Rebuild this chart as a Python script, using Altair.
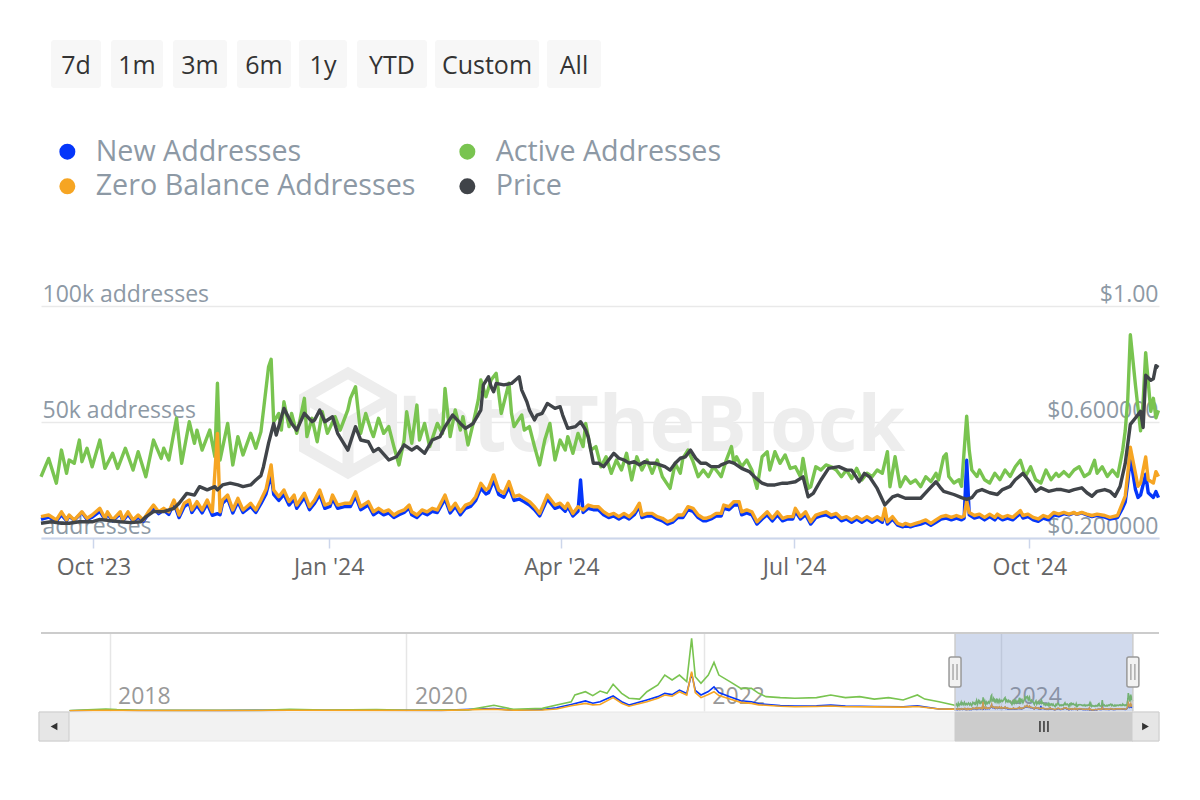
import altair as alt
import pandas as pd

# ---------------------------------------------------------------- data
START = pd.Timestamp("2023-09-10 12:00")
END = pd.Timestamp("2024-11-20 17:00")

# (day offset from START, thousands of addresses)
ACTIVE = [(0,26.4),(3,34.3),(6,23.6),(8,37.9),(10,27.9),(11,33.6),(13,32.2),(15,42.2),(16,32.9),(18,38.7),
          (20,30.7),(23,42.2),(25,30.0),(28,36.5),(30,30.0),(33,38.7),(36,29.3),(38,37.2),(41,26.4),(44,42.2),
          (47,34.3),(48,38.7),(50,33.6),(53,51.6),(55,32.2),(58,50.1),(60,40.8),(61,46.5),(63,37.9),(66,46.5),
          (68,35.0),(69,66.7),(70,33.6),(73,49.4),(75,31.5),(77,43.7),(79,35.8),(82,45.1),(84,38.7),(86,45.8),
          (87,55.0),(89,73.8),(90,77.0),(91,50.0),(93,53.7),(94,46.5),(95,58.7),(97,48.0),(98,53.7),(100,45.1),
          (101,49.4),(103,60.2),(104,43.7),(106,51.6),(108,41.5),(110,54.4),(112,45.1),(115,52.3),(117,46.5),(120,55.2),
          (121,60.2),(123,65.2),(125,45.1),(127,53.7),(129,46.5),(130,43.7),(132,51.6),(134,45.1),(136,48.0),(138,39.4),
          (140,31.5),(142,42.2),(143,54.4),(145,40.8),(147,57.3),(148,42.2),(150,49.4),(152,39.4),(155,49.4),(157,45.1),
          (158,64.5),(160,43.7),(162,55.2),(164,46.5),(165,52.3),(167,40.1),(169,49.4),(171,59.5),(172,68.1),(174,60.9),
          (176,68.1),(178,71.0),(180,53.7),(183,66.7),(184,53.7),(185,48.0),(188,53.0),(189,46.5),(191,48.0),(193,39.4),
          (195,31.5),(197,42.2),(199,49.4),(201,33.6),(203,42.2),(205,37.9),(206,43.7),(208,36.5),(210,45.1),(212,39.4),
          (213,49.4),(215,37.9),(217,39.4),(219,30.7),(221,35.0),(223,27.9),(225,33.6),(227,29.3),(229,36.5),(231,25.0),
          (233,35.0),(235,29.3),(237,33.6),(239,27.9),(241,33.6),(243,26.4),(246,21.4),(248,32.2),(250,27.9),(251,34.3),
          (253,37.9),(255,32.9),(257,26.4),(259,29.3),(261,26.4),(263,30.7),(265,27.9),(266,26.4),(268,33.6),(270,39.4),
          (271,32.2),(272,35.0),(274,30.7),(276,33.6),(278,29.3),(280,21.4),(282,35.0),(284,37.2),(285,29.3),(287,37.2),
          (289,32.2),(291,35.8),(293,30.0),(295,30.7),(297,26.4),(298,34.3),(300,21.4),(301,22.1),(303,30.7),(305,29.3),
          (307,31.5),(309,30.7),(311,29.3),(313,26.4),(315,29.3),(317,25.7),(319,30.0),(321,25.0),(323,27.9),(325,26.4),
          (327,29.3),(329,27.9),(331,37.2),(332,22.1),(334,35.0),(336,22.1),(338,26.4),(340,23.6),(342,25.0),(344,22.1),
          (346,26.4),(348,24.3),(350,27.9),(351,25.0),(353,35.0),(354,36.3),(355,26.5),(357,23.7),(359,25.1),(360,22.3),
          (362,52.5),(363,37.8),(364,29.3),(366,26.5),(367,29.3),(369,25.1),(371,23.7),(373,27.9),(375,25.1),(377,29.3),
          (379,26.5),(381,30.7),(383,33.5),(385,26.5),(387,30.7),(389,25.1),(391,23.7),(393,29.3),(395,25.1),(397,27.9),
          (398,26.5),(400,28.6),(402,26.5),(404,29.3),(406,30.7),(408,26.5),(410,27.9),(412,33.5),(413,27.9),(415,30.7),
          (417,26.5),(419,29.3),(421,26.5),(423,37.8),(424,46.2),(425,60.0),(426,87.6),(428,65.9),(430,46.2),(431,58.8),
          (432,79.9),(434,54.6),(435,60.2),(436,51.8),(437,55.0)]

ZERO = [(0,9.2),(3,9.9),(6,7.8),(8,11.3),(10,7.8),(11,9.9),(13,7.8),(16,11.3),(18,8.5),(20,9.9),
        (23,12.8),(25,8.5),(26,11.3),(28,7.8),(31,11.3),(32,7.8),(34,11.3),(36,7.8),(38,9.9),(40,7.8),
        (42,11.3),(44,14.2),(46,11.3),(48,12.8),(50,11.3),(52,16.4),(54,9.9),(56,15.0),(58,16.4),(59,12.1),
        (61,15.7),(63,12.1),(65,16.4),(67,11.3),(69,45.1),(70,11.3),(71,16.4),(73,18.5),(75,12.1),(77,17.1),
        (79,12.1),(82,15.0),(84,12.1),(86,16.4),(88,21.0),(90,31.5),(91,20.7),(93,17.8),(95,20.7),(97,15.7),
        (99,18.5),(100,14.2),(103,19.3),(105,13.5),(107,16.4),(109,20.7),(111,14.2),(113,15.0),(114,18.5),(116,14.2),
        (119,15.0),(121,15.0),(123,19.9),(125,13.5),(128,15.7),(130,11.3),(132,12.8),(134,11.3),(136,12.1),(138,9.9),
        (140,11.3),(142,12.1),(144,14.2),(145,11.3),(147,9.9),(149,12.1),(151,11.3),(153,12.8),(155,12.1),(158,18.5),
        (160,12.1),(162,15.0),(164,11.3),(166,14.2),(168,15.0),(170,17.8),(172,23.6),(174,20.7),(175,21.5),(177,27.2),
        (179,20.7),(181,19.3),(183,24.3),(185,17.8),(187,18.5),(189,17.1),(191,15.7),(193,13.5),(195,10.6),(198,18.5),
        (201,14.2),(203,15.0),(205,12.8),(206,15.0),(208,10.6),(210,13.5),(212,12.1),(214,14.2),(216,13.5),(218,13.5),
        (220,11.3),(222,9.9),(224,10.6),(226,9.2),(228,10.6),(230,9.2),(232,11.3),(234,15.0),(235,9.9),(237,10.6),
        (239,10.6),(241,9.2),(243,8.5),(245,7.0),(247,7.8),(249,9.9),(251,9.9),(253,13.5),(255,12.8),(257,9.9),
        (259,8.5),(260,8.5),(262,9.2),(264,10.6),(266,10.6),(267,14.2),(269,13.5),(271,15.7),(273,15.7),(274,11.3),
        (276,12.1),(278,11.3),(280,7.0),(282,9.2),(284,11.3),(286,8.5),(288,11.3),(290,8.5),(292,9.2),(294,9.2),
        (295,12.8),(297,9.2),(299,11.3),(301,7.0),(303,9.9),(305,10.6),(307,11.3),(309,9.9),(311,10.6),(313,8.5),
        (315,9.2),(317,7.8),(319,9.2),(321,7.8),(323,9.2),(325,7.8),(327,9.2),(329,7.8),(330,12.8),(331,7.0),
        (333,9.2),(335,6.3),(337,5.6),(338,6.3),(340,5.6),(342,6.3),(344,7.0),(346,7.8),(348,6.3),(350,7.8),
        (352,9.2),(354,9.7),(356,8.9),(358,9.7),(360,8.9),(361,9.5),(362,16.0),(363,11.0),(365,9.7),(367,10.3),
        (369,8.9),(371,10.3),(373,8.9),(374,10.3),(376,8.9),(378,9.7),(380,8.9),(383,11.8),(384,9.7),(386,10.3),
        (388,8.9),(390,8.2),(392,9.7),(394,8.9),(396,11.0),(398,10.3),(400,11.0),(402,10.3),(404,11.0),(405,10.3),
        (407,11.0),(409,10.3),(411,9.7),(413,10.3),(416,9.7),(418,8.9),(421,9.7),(423,15.3),(424,18.1),(425,27.9),
        (426,39.1),(428,27.9),(429,22.3),(430,23.7),(432,34.9),(433,25.1),(435,23.7),(436,28.6),(437,26.5)]

NEW = [(0,8.0),(3,9.0),(6,7.2),(8,10.0),(10,7.5),(11,9.5),(13,7.6),(16,11.0),(18,8.0),(20,9.0),
       (23,11.5),(25,8.0),(26,10.5),(28,7.4),(31,10.5),(32,7.4),(34,10.2),(36,7.2),(38,9.0),(40,7.2),
       (42,10.2),(44,13.0),(46,10.5),(48,12.0),(50,10.2),(52,15.0),(54,8.8),(56,13.5),(58,15.0),(59,11.0),
       (61,14.2),(63,10.8),(65,14.8),(67,9.8),(69,10.5),(70,10.0),(71,15.0),(73,17.0),(75,10.8),(77,15.6),
       (79,11.0),(82,13.6),(84,11.0),(86,14.8),(88,19.0),(90,27.5),(91,18.8),(93,16.2),(95,18.8),(97,14.2),
       (99,16.8),(100,12.8),(103,17.6),(105,12.2),(107,15.0),(109,18.8),(111,12.8),(113,13.6),(114,17.0),(116,12.8),
       (119,13.6),(121,13.6),(123,18.0),(125,12.2),(128,14.2),(130,10.0),(132,11.5),(134,10.0),(136,10.8),(138,8.8),
       (140,10.0),(142,11.0),(144,13.0),(145,10.0),(147,8.8),(149,11.0),(151,10.0),(153,11.5),(155,11.0),(158,16.8),
       (160,10.8),(162,13.6),(164,10.0),(166,12.8),(168,13.6),(170,16.2),(172,21.5),(174,19.0),(175,19.5),(177,24.8),
       (179,18.8),(181,17.6),(183,22.0),(185,16.2),(187,16.8),(189,15.6),(191,14.2),(193,12.2),(195,9.5),(198,16.8),
       (201,12.8),(203,13.6),(205,11.5),(206,13.6),(208,9.5),(210,11.5),(211,25.0),(212,11.0),(214,12.8),(216,12.2),
       (218,12.2),(220,10.0),(222,8.8),(224,9.5),(226,8.2),(228,9.5),(230,8.2),(232,10.0),(234,13.6),(235,8.8),
       (237,9.5),(239,9.5),(241,8.2),(243,7.4),(245,6.0),(247,6.8),(249,8.8),(251,8.8),(253,12.2),(255,11.5),
       (257,8.8),(259,7.4),(260,7.4),(262,8.2),(264,9.5),(266,9.5),(267,12.8),(269,12.2),(271,14.2),(273,14.2),
       (274,10.0),(276,10.8),(278,10.0),(280,6.0),(282,8.2),(284,10.0),(286,7.4),(288,10.0),(290,7.4),(292,8.2),
       (294,8.2),(295,11.5),(297,8.2),(299,10.0),(301,6.0),(303,8.8),(305,9.5),(307,10.0),(309,8.8),(311,9.5),
       (313,7.4),(315,8.2),(317,6.8),(319,8.2),(321,6.8),(323,8.2),(325,6.8),(327,8.2),(329,6.8),(330,11.0),
       (331,6.0),(333,8.2),(335,5.5),(337,4.8),(338,5.5),(340,4.8),(342,5.5),(344,6.0),(346,6.8),(348,5.5),
       (350,6.8),(352,8.2),(354,8.6),(356,7.8),(358,8.6),(360,7.8),(361,8.5),(362,33.5),(363,10.0),(365,8.6),
       (367,9.2),(369,7.8),(371,9.2),(373,7.8),(374,9.2),(376,7.8),(378,8.6),(380,7.8),(383,10.6),(384,8.6),
       (386,9.2),(388,7.8),(390,7.2),(392,8.6),(394,7.8),(396,10.0),(398,9.5),(400,10.5),(402,10.0),(404,10.8),
       (405,10.2),(407,10.8),(409,10.0),(411,9.2),(413,9.8),(416,9.0),(418,8.2),(421,8.8),(423,13.0),(424,15.5),
       (425,24.0),(426,34.9),(428,20.9),(429,17.5),(430,18.5),(432,27.5),(433,19.5),(435,17.5),(436,20.0),(437,17.4)]

# (day offset from START, USD)
PRICE = [(0,0.251),(4,0.256),(8,0.251),(11,0.251),(15,0.256),(20,0.256),(23,0.264),(27,0.260),(31,0.256),(35,0.253),
         (39,0.256),(41,0.273),(44,0.291),(48,0.291),(52,0.302),(54,0.320),(57,0.354),(60,0.348),(62,0.377),(65,0.366),
         (68,0.377),(69,0.366),(71,0.383),(74,0.389),(77,0.383),(79,0.377),(82,0.383),(84,0.400),(86,0.415),(87,0.446),
         (89,0.527),(91,0.595),(92,0.555),(95,0.647),(98,0.595),(100,0.572),(103,0.630),(106,0.601),(107,0.607),(109,0.641),
         (111,0.601),(114,0.618),(116,0.561),(120,0.503),(123,0.584),(125,0.538),(128,0.532),(130,0.498),(132,0.509),(136,0.469),
         (139,0.480),(142,0.521),(145,0.503),(147,0.515),(150,0.492),(153,0.538),(156,0.549),(158,0.584),(161,0.624),(164,0.595),
         (166,0.578),(169,0.595),(172,0.641),(173,0.728),(175,0.756),(176,0.722),(177,0.704),(178,0.733),(181,0.728),(184,0.733),
         (187,0.756),(188,0.710),(190,0.670),(191,0.641),(193,0.607),(194,0.624),(196,0.630),(198,0.664),(201,0.647),(203,0.653),
         (204,0.624),(206,0.578),(209,0.584),(211,0.601),(213,0.572),(214,0.549),(216,0.458),(218,0.458),(220,0.446),(222,0.469),
         (224,0.492),(226,0.475),(228,0.469),(230,0.458),(232,0.463),(234,0.452),(236,0.463),(238,0.458),(240,0.458),(242,0.452),
         (244,0.446),(246,0.434),(248,0.458),(250,0.475),(252,0.480),(254,0.503),(256,0.475),(258,0.458),(260,0.458),(262,0.446),
         (265,0.446),(266,0.452),(269,0.463),(271,0.458),(274,0.440),(277,0.429),(279,0.411),(282,0.389),(284,0.383),(287,0.383),
         (290,0.389),(292,0.389),(295,0.394),(298,0.411),(300,0.342),(302,0.354),(305,0.400),(308,0.440),(312,0.446),(315,0.434),
         (317,0.434),(320,0.394),(322,0.423),(324,0.411),(327,0.371),(330,0.314),(333,0.342),(335,0.348),(338,0.337),(341,0.337),
         (344,0.337),(347,0.366),(350,0.394),(352,0.371),(353,0.361),(357,0.350),(360,0.339),(362,0.333),(364,0.339),(366,0.361),
         (368,0.367),(371,0.356),(374,0.350),(376,0.367),(379,0.378),(381,0.401),(384,0.423),(386,0.401),(389,0.361),(391,0.373),
         (394,0.361),(397,0.367),(399,0.367),(402,0.361),(404,0.367),(407,0.373),(409,0.356),(411,0.344),(413,0.361),(416,0.367),
         (418,0.361),(420,0.344),(422,0.378),(424,0.457),(425,0.524),(426,0.592),(428,0.614),(430,0.637),(431,0.581),(432,0.761),
         (434,0.744),(435,0.749),(436,0.794),(437,0.788)]

# navigator history before the selected range (date, thousands)
NAV_ACTIVE = [("2017-09-25",2.5),("2017-12-23",9.7),("2018-01-19",6.5),("2018-03-15",4.0),("2018-06-27",3.2),
              ("2018-10-01",3.5),("2019-01-10",3.0),("2019-03-20",8.1),("2019-06-15",4.5),("2019-10-19",6.5),
              ("2020-01-10",4.0),("2020-03-27",4.9),("2020-06-01",5.5),("2020-08-03",27.6),("2020-09-20",8.1),
              ("2020-11-30",13.0),("2021-01-04",29.2),("2021-02-09",45.0),("2021-02-18",78.0),("2021-03-16",94.0),
              ("2021-04-03",75.0),("2021-04-21",97.0),("2021-05-08",86.0),("2021-05-23",130.0),("2021-06-13",86.0),
              ("2021-07-01",62.0),("2021-07-27",58.0),("2021-08-14",94.0),("2021-09-10",127.0),("2021-09-27",175.0),
              ("2021-10-15",151.0),("2021-11-02",175.0),("2021-11-20",143.0),("2021-12-02",354.0),("2021-12-11",167.0),
              ("2021-12-25",135.0),("2022-01-12",175.0),("2022-01-26",237.0),("2022-02-07",175.0),("2022-03-06",143.0),
              ("2022-04-02",110.0),("2022-04-28",110.0),("2022-05-16",86.0),("2022-06-03",70.0),("2022-07-08",65.0),
              ("2022-08-13",62.0),("2022-10-05",65.0),("2022-11-09",78.0),("2022-12-15",65.0),("2023-01-19",70.0),
              ("2023-02-24",58.0),("2023-03-31",65.0),("2023-05-06",54.0),("2023-06-10",78.0),("2023-06-28",58.0),
              ("2023-08-02",45.0),("2023-09-07",29.0)]
NAV_NEW = [("2017-09-25",1.5),("2017-12-23",5.0),("2018-03-15",2.5),("2018-10-01",2.0),("2019-03-20",4.0),
           ("2019-10-19",3.5),("2020-03-27",3.0),("2020-08-03",12.0),("2020-09-20",4.0),("2020-11-30",7.0),
           ("2021-01-04",16.0),("2021-02-09",32.0),("2021-03-16",49.0),("2021-04-03",38.0),("2021-04-21",45.0),
           ("2021-05-23",73.0),("2021-06-13",45.0),("2021-07-01",29.0),("2021-08-14",54.0),("2021-09-10",70.0),
           ("2021-09-27",86.0),("2021-10-15",80.0),("2021-11-02",102.0),("2021-11-20",85.0),("2021-12-02",183.0),
           ("2021-12-11",100.0),("2021-12-25",78.0),("2022-01-12",95.0),("2022-01-26",118.0),("2022-02-07",90.0),
           ("2022-03-06",70.0),("2022-04-02",50.0),("2022-04-28",45.0),("2022-05-16",35.0),("2022-07-08",26.0),
           ("2022-08-13",24.0),("2022-10-05",25.0),("2022-11-09",29.0),("2022-12-15",24.0),("2023-02-24",22.0),
           ("2023-05-06",21.0),("2023-06-10",25.0),("2023-08-02",10.0),("2023-09-07",9.0)]
NAV_ZERO = [("2017-09-25",1.0),("2017-12-23",4.0),("2018-03-15",2.0),("2018-10-01",1.8),("2019-03-20",3.5),
            ("2019-10-19",3.0),("2020-03-27",2.5),("2020-08-03",9.0),("2020-09-20",3.5),("2020-11-30",5.0),
            ("2021-01-04",10.0),("2021-02-09",26.0),("2021-03-16",37.0),("2021-04-03",30.0),("2021-04-21",32.0),
            ("2021-05-23",65.0),("2021-06-13",38.0),("2021-07-01",23.0),("2021-08-14",45.0),("2021-09-10",62.0),
            ("2021-09-27",78.0),("2021-10-15",72.0),("2021-11-02",94.0),("2021-11-20",78.0),("2021-12-02",192.0),
            ("2021-12-11",90.0),("2021-12-25",65.0),("2022-01-12",80.0),("2022-01-26",94.0),("2022-02-07",75.0),
            ("2022-03-06",58.0),("2022-04-02",42.0),("2022-04-28",37.0),("2022-05-16",30.0),("2022-07-08",23.0),
            ("2022-08-13",21.0),("2022-10-05",22.0),("2022-11-09",24.0),("2022-12-15",21.0),("2023-02-24",20.0),
            ("2023-05-06",19.0),("2023-06-10",22.0),("2023-08-02",10.0),("2023-09-07",9.0)]

NEW_NAME, ACTIVE_NAME, ZERO_NAME, PRICE_NAME = "New Addresses", "Active Addresses", "Zero Balance Addresses", "Price"
# legend fills column by column: New / Zero in the first column, Active / Price in the second
LEGEND_ORDER = [NEW_NAME, ZERO_NAME, ACTIVE_NAME, PRICE_NAME]
BUTTONS = ["7d", "1m", "3m", "6m", "1y", "YTD", "Custom", "All"]

# ---------------------------------------------------------------- style / layout
FONT = "Open Sans"
C_NEW, C_ACTIVE, C_ZERO, C_PRICE = "#0536fa", "#79c450", "#f6a523", "#404449"
W, H = 1118, 232
NAV_H = 78
BUTTON_LEFT = [10, 70, 132, 196, 258, 316, 394, 506]
BUTTON_WIDTH = [50, 52, 54, 54, 48, 70, 104, 54]
AXIS_GRAY = "#8d99a5"


def main_frame(pairs, name, mult):
    return pd.DataFrame({
        "date": [START + pd.Timedelta(days=d) for d, _ in pairs],
        "value": [v * mult for _, v in pairs],
        "series": name,
    })


def nav_frame(pairs, main_pairs, name):
    hist = pd.DataFrame({"date": pd.to_datetime([d for d, _ in pairs]),
                         "value": [v * 1000 for _, v in pairs]})
    recent = main_frame(main_pairs, name, 1000)[["date", "value"]]
    out = pd.concat([hist, recent], ignore_index=True).sort_values("date")
    out["series"] = name
    return out


new_df = main_frame(NEW, NEW_NAME, 1000)
act_df = main_frame(ACTIVE, ACTIVE_NAME, 1000)
zero_df = main_frame(ZERO, ZERO_NAME, 1000)
price_df = main_frame(PRICE, PRICE_NAME, 1)

x_scale = alt.Scale(domain=[alt.DateTime(year=2023, month=9, date=10, hours=12),
                            alt.DateTime(year=2024, month=11, date=20, hours=17)])
color_scale = alt.Scale(domain=LEGEND_ORDER, range=[C_NEW, C_ZERO, C_ACTIVE, C_PRICE])

legend = alt.Legend(
    title=None, orient="none", legendX=12, legendY=-169, columns=2,
    columnPadding=31, rowPadding=-11, symbolType="circle", symbolSize=64,
    symbolStrokeWidth=8, labelFont=FONT, labelFontSize=28.7, labelColor=AXIS_GRAY,
    labelOffset=14, labelLimit=0,
)
color_enc = alt.Color("series:N", scale=color_scale, legend=legend, title=None)

x_axis = alt.Axis(
    values=[alt.DateTime(year=2023, month=10, date=1), alt.DateTime(year=2024, month=1, date=1),
            alt.DateTime(year=2024, month=4, date=1), alt.DateTime(year=2024, month=7, date=1),
            alt.DateTime(year=2024, month=10, date=1)],
    format="%b '%y", labelFont=FONT, labelFontSize=23, labelColor="#666666",
    tickColor="#ccd6eb", tickSize=10, tickWidth=1.5, domainColor="#ccd6eb", domainWidth=2,
    labelPadding=8, grid=False, labelFlush=False, title=None,
)
left_axis = alt.Axis(
    orient="left", values=[0, 50000, 100000],
    labelExpr="datum.value == 0 ? 'addresses' : format(datum.value / 1000, 'd') + 'k addresses'",
    labelAlign="left", labelBaseline="alphabetic", labelPadding=-1, labelOffset=-5,
    ticks=False, domain=False, grid=True, gridColor="#e9e9e9", gridWidth=1.5,
    labelFont=FONT, labelFontSize=23, labelColor=AXIS_GRAY, title=None,
)
right_axis = alt.Axis(
    orient="right", values=[0.2, 0.6, 1.0],
    labelExpr="datum.value > 0.99 ? '$1.00' : '$' + format(datum.value, '.6f')",
    labelAlign="right", labelBaseline="alphabetic", labelPadding=-1, labelOffset=-5,
    ticks=False, domain=False, grid=False,
    labelFont=FONT, labelFontSize=23, labelColor=AXIS_GRAY, title=None,
)
addr_y = alt.Scale(domain=[0, 100000], nice=False, zero=True)
LINE_W = 3.4


def addr_line(df):
    return alt.Chart(df).mark_line(strokeWidth=LINE_W, strokeJoin="round").encode(
        x=alt.X("date:T", scale=x_scale, axis=x_axis, title=None),
        y=alt.Y("value:Q", scale=addr_y, axis=left_axis, title=None),
        color=color_enc,
    )


wm_df = pd.DataFrame({"t": ["IntoTheBlock"]})
watermark = alt.Chart(wm_df).mark_text(
    font=FONT, fontSize=77, fontWeight="bold", color="#ededed", align="left", baseline="alphabetic"
).encode(x=alt.value(356), y=alt.value(145), text="t:N")
CUBE = "M0,-1L0.87,-0.5L0.87,0.5L0,1L-0.87,0.5L-0.87,-0.5Z M-0.87,-0.5L0,0L0.87,-0.5 M0,0L0,1"
logo = alt.Chart(wm_df).mark_point(
    shape=CUBE, size=10000, filled=False, stroke="#ededed", strokeWidth=11, opacity=1
).encode(x=alt.value(307), y=alt.value(117))

addr_layer = alt.layer(watermark, logo, addr_line(new_df), addr_line(act_df), addr_line(zero_df))
price_layer = alt.Chart(price_df).mark_line(strokeWidth=LINE_W, strokeJoin="round").encode(
    x=alt.X("date:T", scale=x_scale, axis=x_axis, title=None),
    y=alt.Y("value:Q", scale=alt.Scale(domain=[0.2, 1.0], nice=False, zero=False), axis=right_axis, title=None),
    color=color_enc,
)
main = alt.layer(addr_layer, price_layer).resolve_scale(y="independent").properties(width=W, height=H)

# ---------------------------------------------------------------- header (range buttons)
btn_df = pd.DataFrame({"label": BUTTONS, "x0": BUTTON_LEFT,
                       "x1": [l + w for l, w in zip(BUTTON_LEFT, BUTTON_WIDTH)],
                       "xc": [l + w / 2 for l, w in zip(BUTTON_LEFT, BUTTON_WIDTH)]})
btn_rect = alt.Chart(btn_df).mark_rect(fill="#f7f7f7", cornerRadius=3).encode(
    x=alt.X("x0:Q", scale=None, axis=None), x2="x1:Q", y=alt.value(0), y2=alt.value(48))
btn_text = alt.Chart(btn_df).mark_text(font=FONT, fontSize=25, color="#333333", baseline="middle").encode(
    x=alt.X("xc:Q", scale=None, axis=None), y=alt.value(26), text="label:N")
header = alt.layer(btn_rect, btn_text).properties(width=W, height=171)

# ---------------------------------------------------------------- navigator
nav_scale = alt.Scale(domain=[alt.DateTime(year=2017, month=7, date=16, hours=14),
                              alt.DateTime(year=2025, month=1, date=23, hours=22)])
nav_y = alt.Scale(domain=[0, 380000], nice=False)
nav_axis = alt.Axis(
    values=[alt.DateTime(year=y, month=1, date=1) for y in (2018, 2020, 2022, 2024)],
    format="%Y", labelAlign="left", labelBaseline="alphabetic", labelOffset=8, labelPadding=-8,
    ticks=False, domain=False, grid=True, gridColor="#e6e6e6", gridWidth=1.5,
    labelFont=FONT, labelFontSize=23, labelColor="#999999", labelFlush=False, title=None,
)


def nx(field):
    return alt.X(field, scale=nav_scale, axis=nav_axis, title=None)


def nav_line(df, color):
    return alt.Chart(df).mark_line(strokeWidth=1.6, color=color).encode(
        x=nx("date:T"), y=alt.Y("value:Q", scale=nav_y, axis=None, title=None))


sel_df = pd.DataFrame({"start": [START], "end": [END], "mid": [START + (END - START) / 2]})
handle_df = pd.DataFrame({"d": [START, END]})

mask = alt.Chart(sel_df).mark_rect(fill="#6685c2", opacity=0.3).encode(
    x=nx("start:T"), x2="end:T", y=alt.value(0), y2=alt.value(NAV_H))
mask_edge = alt.Chart(handle_df).mark_rule(stroke="#cccccc", strokeWidth=1.5).encode(
    x=nx("d:T"), y=alt.value(0), y2=alt.value(NAV_H))
outline = alt.Chart(wm_df).mark_rule(stroke="#cccccc", strokeWidth=2).encode(
    x=alt.value(0), x2=alt.value(W), y=alt.value(0))
handles = alt.Chart(handle_df).mark_rect(
    fill="#f2f2f2", stroke="#999999", strokeWidth=1.5, cornerRadius=2, xOffset=-6, x2Offset=6
).encode(x=nx("d:T"), x2="d:T", y=alt.value(24), y2=alt.value(54))
grips = [alt.Chart(handle_df).mark_rule(stroke="#999999", strokeWidth=1.2, xOffset=off).encode(
    x=nx("d:T"), y=alt.value(31), y2=alt.value(47)) for off in (-2, 2)]

track = alt.Chart(wm_df).mark_rect(fill="#f2f2f2", stroke="#e6e6e6", strokeWidth=1).encode(
    x=alt.value(-2), x2=alt.value(W), y=alt.value(79), y2=alt.value(108))
thumb = alt.Chart(sel_df).mark_rect(fill="#cccccc", stroke="#cccccc", strokeWidth=1).encode(
    x=nx("start:T"), x2="end:T", y=alt.value(79), y2=alt.value(108))
thumb_grips = [alt.Chart(sel_df).mark_rule(stroke="#333333", strokeWidth=1.5, xOffset=off).encode(
    x=nx("mid:T"), y=alt.value(88), y2=alt.value(99)) for off in (-4, 0, 4)]
btn_l = alt.Chart(wm_df).mark_rect(fill="#e6e6e6", stroke="#cccccc", strokeWidth=1).encode(
    x=alt.value(-2), x2=alt.value(28), y=alt.value(79), y2=alt.value(108))
btn_r = alt.Chart(wm_df).mark_rect(fill="#e6e6e6", stroke="#cccccc", strokeWidth=1).encode(
    x=alt.value(1091), x2=alt.value(W), y=alt.value(79), y2=alt.value(108))
arr_l = alt.Chart(wm_df).mark_point(shape="triangle-left", filled=True, color="#333333", size=60, opacity=1).encode(
    x=alt.value(13), y=alt.value(93.5))
arr_r = alt.Chart(wm_df).mark_point(shape="triangle-right", filled=True, color="#333333", size=60, opacity=1).encode(
    x=alt.value(1104.5), y=alt.value(93.5))

navigator = alt.layer(
    nav_line(nav_frame(NAV_NEW, NEW, NEW_NAME), C_NEW),
    nav_line(nav_frame(NAV_ACTIVE, ACTIVE, ACTIVE_NAME), C_ACTIVE),
    nav_line(nav_frame(NAV_ZERO, ZERO, ZERO_NAME), C_ZERO),
    mask, mask_edge, outline, handles, *grips,
    track, thumb, *thumb_grips, btn_l, btn_r, arr_l, arr_r,
).properties(width=W, height=NAV_H)

chart = alt.vconcat(header, main, navigator, spacing=95, bounds="flush").resolve_scale(
    x="independent", y="independent", color="independent"
).properties(
    padding={"left": 38, "top": 40, "right": 0, "bottom": 0}
).configure_view(stroke=None)

chart.save("out.html", embed_options={"renderer": "svg", "actions": False})
